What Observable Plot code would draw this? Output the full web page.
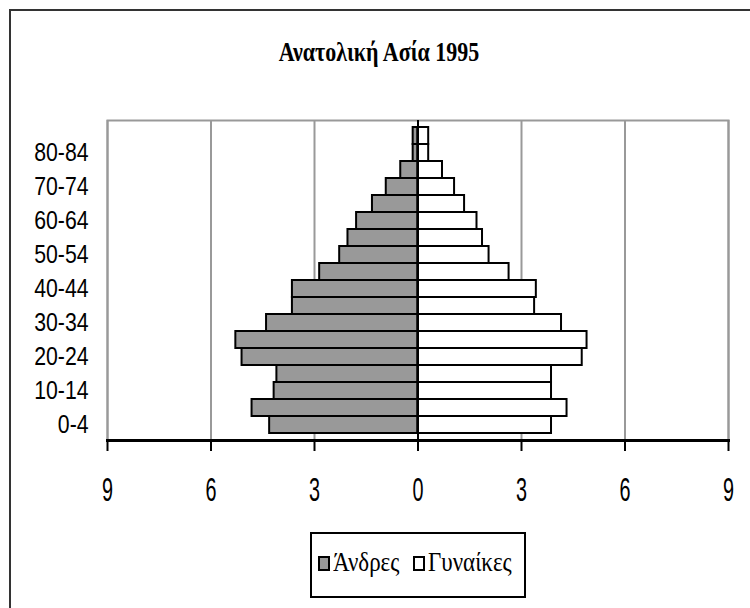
<!DOCTYPE html>
<html>
<head>
<meta charset="utf-8">
<script src="https://cdn.jsdelivr.net/npm/d3@7"></script>
<script src="https://cdn.jsdelivr.net/npm/@observablehq/plot@0.6"></script>
<style>
  html, body { margin: 0; padding: 0; background: #fff; overflow: hidden; width: 750px; height: 608px; }
  #wrap { position: relative; width: 750px; height: 608px; }
  #frame { position: absolute; left: 9px; top: 9px; width: 780px; height: 640px; border: 2px solid #333; box-sizing: border-box; }
  #chart { position: absolute; left: 0; top: 0; }
  #title { position: absolute; left: 200px; width: 358px; top: 37px; text-align: center;
           font-family: "Liberation Serif", serif; font-weight: bold; font-size: 22px; color: #000;
           transform: scaleY(1.2); transform-origin: center top; }
  #legend { position: absolute; left: 310px; top: 532px; width: 216px; height: 66px; box-sizing: border-box;
            border: 2px solid #000; font-family: "Liberation Serif", serif; font-size: 23px; color: #000; }
  .item { position: absolute; top: 16px; display: flex; align-items: center; }
  .item span { display: inline-block; transform: scaleY(1.15); }
  .sw { width: 12px; height: 15px; border: 2px solid #000; box-sizing: border-box; margin-right: 3px; }
</style>
</head>
<body>
<div id="wrap">
  <div id="frame"></div>
  <div id="chart"></div>
  <div id="title">Ανατολική Ασία 1995</div>
  <div id="legend">
    <div class="item" style="left:6px"><div class="sw" style="background:#999"></div><span>Άνδρες</span></div>
    <div class="item" style="left:101px"><div class="sw" style="background:#fff"></div><span>Γυναίκες</span></div>
  </div>
</div>
<script>
const ages = ["0-4","5-9","10-14","15-19","20-24","25-29","30-34","35-39","40-44","45-49","50-54","55-59","60-64","65-69","70-74","75-79","80-84","85+"];
const males   = [4.30, 4.81, 4.17, 4.09, 5.10, 5.28, 4.39, 3.64, 3.64, 2.85, 2.27, 2.03, 1.78, 1.32, 0.92, 0.50, 0.14, 0.14];
const females = [3.87, 4.32, 3.87, 3.87, 4.76, 4.90, 4.16, 3.38, 3.43, 2.64, 2.06, 1.87, 1.71, 1.35, 1.06, 0.71, 0.31, 0.31];
const yTickLabels = ["0-4","10-14","20-24","30-34","40-44","50-54","60-64","70-74","80-84"];
const xTicks = [-9, -6, -3, 0, 3, 6, 9];
const seriesNames = ["Άνδρες", "Γυναίκες"];

const rows = [];
ages.forEach((a, i) => {
  rows.push({age: a, sex: seriesNames[0], x1: -males[i], x2: 0});
  rows.push({age: a, sex: seriesNames[1], x1: 0, x2: females[i]});
});

const chart = Plot.plot({
  width: 750,
  height: 608,
  marginLeft: 107,
  marginRight: 22,
  marginTop: 120,
  marginBottom: 168,
  x: {domain: [-9, 9]},
  y: {domain: ages.slice().reverse(), padding: 0},
  color: {domain: seriesNames, range: ["#999999", "#ffffff"]},
  style: {background: "transparent"},
  marks: [
    Plot.frame({stroke: "#999", strokeWidth: 2}),
    Plot.gridX(xTicks, {stroke: "#999", strokeOpacity: 1, strokeWidth: 2}),
    Plot.barX(rows, {y: "age", x1: "x1", x2: "x2", fill: "sex", stroke: "#000", strokeWidth: 2}),
    Plot.ruleX([0], {stroke: "#000", strokeWidth: 2}),
    Plot.frame({anchor: "bottom", stroke: "#000", strokeWidth: 3}),
    Plot.axisX({ticks: xTicks, tickFormat: d => Math.abs(d), tickSize: 11, tickPadding: 26, strokeWidth: 2,
                fontSize: 33, fontFamily: "Liberation Sans, sans-serif", fill: "#000", label: null}),
    Plot.axisY({ticks: yTickLabels, tickSize: 0, tickPadding: 19, fontSize: 25, fontFamily: "Liberation Sans, sans-serif",
                fill: "#000", label: null})
  ]
});
document.getElementById("chart").appendChild(chart);

// horizontally condense tick labels about their anchor point
function squeeze(nodes, sx, anchor) {
  nodes.forEach(t => {
    const b = t.getBBox();
    const cx = anchor === "end" ? b.x + b.width : b.x + b.width / 2;
    const tr = t.getAttribute("transform") || "";
    t.setAttribute("transform", `${tr} translate(${cx},0) scale(${sx},1) translate(${-cx},0)`.trim());
  });
}
squeeze(chart.querySelectorAll('g[aria-label="x-axis tick label"] text'), 0.6, "middle");
squeeze(chart.querySelectorAll('g[aria-label="y-axis tick label"] text'), 0.85, "end");
</script>
</body>
</html>
